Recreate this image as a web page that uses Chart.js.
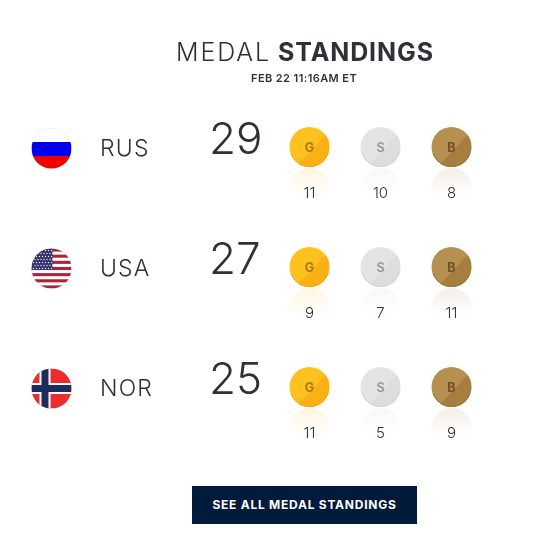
<!DOCTYPE html>
<html>
<head>
<meta charset="utf-8">
<script src="https://cdn.jsdelivr.net/npm/chart.js@4"></script>
<style>
  html, body { margin: 0; padding: 0; background: #fff; }
  body { position: relative; width: 550px; height: 534px; overflow: hidden; font-family: Inter, sans-serif; color: #2e3136; }
  canvas { position: absolute; left: 0; top: 0; }
  .title { position: absolute; top: 37px; font-size: 25px; line-height: 30px; white-space: nowrap; }
  .title.light { left: 176px; font-weight: 300; letter-spacing: 1.9px; }
  .title.bold { left: 278px; font-weight: 700; letter-spacing: 0.9px; }
  .stamp { position: absolute; left: 251px; top: 71px; font-size: 11px; line-height: 14px; font-weight: 600; letter-spacing: 0.42px; white-space: nowrap; }
  .button { position: absolute; left: 192px; top: 486px; width: 225px; height: 38px; line-height: 38px; background: #021b3a; color: #fff; text-align: center; font-size: 12px; font-weight: 700; letter-spacing: 0.75px; }
</style>
</head>
<body>
<canvas id="medals" width="550" height="534"></canvas>
<div class="title light">MEDAL</div>
<div class="title bold">STANDINGS</div>
<div class="stamp">FEB 22 11:16AM ET</div>
<div class="button">SEE ALL MEDAL STANDINGS</div>
<script>
const countries = ['RUS', 'USA', 'NOR'];
const medalTypes = ['G', 'S', 'B'];
const totals = [29, 27, 25];
const goldCounts = [11, 9, 11];
const silverCounts = [10, 7, 5];
const bronzeCounts = [8, 11, 9];

const textColour = '#2e3136';
const medalColours = {
  G: { base: '#fec11e', dark: '#f9b115', rim: '#f0a512', letter: '#a9791c', glow: '253,185,19' },
  S: { base: '#e4e4e4', dark: '#dddddd', rim: '#d2d2d2', letter: '#9a9a9a', glow: '200,200,200' },
  B: { base: '#b59050', dark: '#a67f40', rim: '#97733a', letter: '#6f5227', glow: '172,134,69' }
};

function medalData(counts, type) {
  return countries.map((code, i) => ({ x: type, y: code, count: counts[i] }));
}

function circleClip(ctx, x, y, r) {
  ctx.beginPath();
  ctx.arc(x, y, r, 0, Math.PI * 2);
  ctx.clip();
}

// flags are plain drawings in a circle, no data in them
const flags = {
  RUS(ctx, x, y) {
    ctx.fillStyle = '#fff';
    ctx.fillRect(x - 20, y - 20, 40, 13.5);
    ctx.fillStyle = '#0000ee';
    ctx.fillRect(x - 20, y - 6.5, 40, 14);
    ctx.fillStyle = '#f10000';
    ctx.fillRect(x - 20, y + 7.5, 40, 13);
  },
  USA(ctx, x, y) {
    const h = 40 / 13;
    ctx.fillStyle = '#fff';
    ctx.fillRect(x - 20, y - 20, 40, 40);
    ctx.fillStyle = '#ab2439';
    for (let i = 0; i < 13; i += 2) ctx.fillRect(x - 20, y - 20 + i * h, 40, h);
    ctx.fillStyle = '#35356d';
    ctx.fillRect(x - 20, y - 20, 21, h * 7);
    ctx.fillStyle = '#e8e8f2';
    for (let r = 0; r < 7; r++) {
      for (let c = 0; c < 7; c++) {
        ctx.beginPath();
        ctx.arc(x - 18 + c * 3 + (r % 2) * 1.5, y - 18 + r * 3, 0.7, 0, Math.PI * 2);
        ctx.fill();
      }
    }
  },
  NOR(ctx, x, y) {
    ctx.fillStyle = '#ee2c2c';
    ctx.fillRect(x - 20, y - 20, 40, 40);
    ctx.fillStyle = '#fff';
    ctx.fillRect(x - 12, y - 20, 11, 40);
    ctx.fillRect(x - 20, y - 5.5, 40, 11);
    ctx.fillStyle = '#1c2c5c';
    ctx.fillRect(x - 10, y - 20, 7, 40);
    ctx.fillRect(x - 20, y - 3.5, 40, 7);
  }
};

const medalPainter = {
  id: 'medalPainter',
  // the reference's code labels are wide, ticks have no letter spacing option
  beforeDraw(chart) {
    chart.ctx.letterSpacing = '1.2px';
  },
  beforeDatasetsDraw(chart) {
    chart.ctx.letterSpacing = '0px';
  },
  afterDatasetsDraw(chart) {
    const { ctx, scales } = chart;

    countries.forEach((code, i) => {
      const y = scales.y.getPixelForValue(i);

      // flag
      ctx.save();
      ctx.save();
      circleClip(ctx, 51.5, y + 1.5, 20);
      flags[code](ctx, 51.5, y + 1.5);
      ctx.restore();
      ctx.strokeStyle = 'rgba(0,0,0,0.05)';
      ctx.lineWidth = 1;
      ctx.beginPath();
      ctx.arc(51.5, y + 1.5, 20, 0, Math.PI * 2);
      ctx.stroke();
      ctx.restore();

      // total
      ctx.save();
      ctx.fillStyle = textColour;
      ctx.font = '300 44px Inter';
      ctx.textAlign = 'left';
      ctx.textBaseline = 'alphabetic';
      ctx.fillText(totals[i], 209, y + 7);
      ctx.restore();
    });

    chart.data.datasets.forEach((ds, d) => {
      const meta = chart.getDatasetMeta(d);
      const col = medalColours[ds.label];
      meta.data.forEach((pt, i) => {
        const { x, y } = pt;

        // reflection under the disc
        ctx.save();
        ctx.beginPath();
        ctx.rect(x - 21, y + 21, 42, 30);
        ctx.clip();
        const fade = ctx.createLinearGradient(0, y + 21, 0, y + 48);
        fade.addColorStop(0, `rgba(${col.glow},0.13)`);
        fade.addColorStop(1, `rgba(${col.glow},0)`);
        ctx.fillStyle = fade;
        ctx.beginPath();
        ctx.arc(x, y + 41, 20, 0, Math.PI * 2);
        ctx.fill();
        ctx.restore();

        // darker lower right half of the disc, and its rim
        ctx.save();
        circleClip(ctx, x, y, 20);
        ctx.fillStyle = col.dark;
        ctx.beginPath();
        ctx.moveTo(x + 20, y - 16);
        ctx.lineTo(x + 20, y + 20);
        ctx.lineTo(x - 14, y + 20);
        ctx.closePath();
        ctx.fill();
        ctx.strokeStyle = col.rim;
        ctx.lineWidth = 1;
        ctx.beginPath();
        ctx.arc(x, y, 19.5, Math.PI * 0.1, Math.PI * 0.9);
        ctx.stroke();
        ctx.restore();

        // letter and count
        ctx.save();
        ctx.textAlign = 'center';
        ctx.textBaseline = 'middle';
        ctx.fillStyle = col.letter;
        ctx.font = '700 12.5px Inter';
        ctx.fillText(ds.label, x, y + 1);
        ctx.fillStyle = textColour;
        ctx.font = '300 15px Inter';
        ctx.fillText(ds.data[i].count, x, y + 46);
        ctx.restore();
      });
    });
  }
};

new Chart(document.getElementById('medals'), {
  type: 'scatter',
  data: {
    datasets: [
      { label: 'G', data: medalData(goldCounts, 'G'), backgroundColor: medalColours.G.base },
      { label: 'S', data: medalData(silverCounts, 'S'), backgroundColor: medalColours.S.base },
      { label: 'B', data: medalData(bronzeCounts, 'B'), backgroundColor: medalColours.B.base }
    ]
  },
  options: {
    responsive: false,
    animation: false,
    layout: { padding: { left: 100, right: 63, top: 87, bottom: 87 } },
    elements: { point: { radius: 20, borderWidth: 0, hoverRadius: 20 } },
    plugins: { legend: { display: false }, tooltip: { enabled: false } },
    scales: {
      x: {
        type: 'category',
        labels: medalTypes,
        offset: true,
        grid: { display: false },
        border: { display: false },
        ticks: { display: false },
        afterFit(axis) { axis.height = 0; }
      },
      y: {
        type: 'category',
        labels: countries,
        offset: true,
        grid: { display: false },
        border: { display: false },
        afterFit(axis) { axis.width = 174; },
        ticks: {
          crossAlign: 'far',
          labelOffset: 2,
          color: textColour,
          font: { family: 'Inter', size: 23, weight: '300' }
        }
      }
    }
  },
  plugins: [medalPainter]
});
</script>
</body>
</html>
